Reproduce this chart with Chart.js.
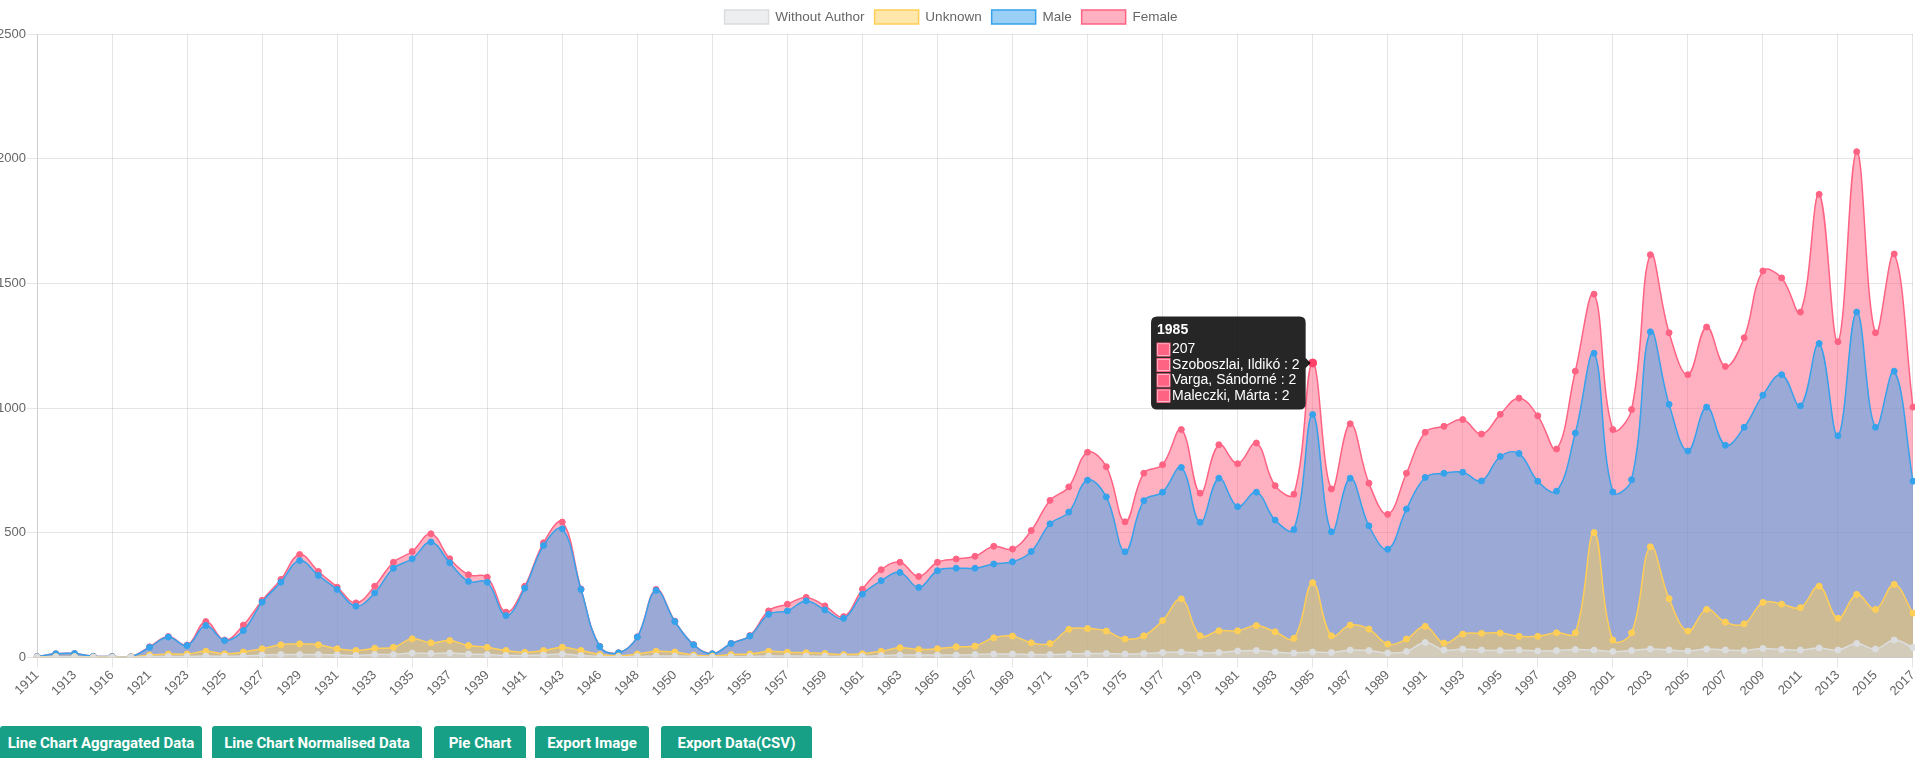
<!DOCTYPE html>
<html><head><meta charset="utf-8">
<script src="https://cdn.jsdelivr.net/npm/chart.js@4.4.1/dist/chart.umd.min.js"></script>
<style>
html,body{margin:0;padding:0;background:#fff;overflow:hidden;width:1915px;height:758px;}
#wrap{position:absolute;left:-19px;top:0;width:1943px;height:699px;}
.btn{position:absolute;top:726px;height:36px;background:#17a085;color:#fff;font-family:"Liberation Sans Narrow","Arial Narrow",Roboto,sans-serif;font-weight:bold;font-size:15px;line-height:34px;text-align:center;border-radius:3px;white-space:nowrap;}
</style></head>
<body>
<div id="wrap"><canvas id="c"></canvas></div>
<div class="btn" style="left:0;width:202px;">Line Chart Aggragated Data</div>
<div class="btn" style="left:212px;width:210px;">Line Chart Normalised Data</div>
<div class="btn" style="left:434px;width:92px;">Pie Chart</div>
<div class="btn" style="left:535px;width:114px;">Export Image</div>
<div class="btn" style="left:661px;width:151px;">Export Data(CSV)</div>
<script>
const years = ['1911','1912','1913','1914','1916','1920','1921','1922','1923','1924','1925','1926','1927','1928','1929','1930','1931','1932','1933','1934','1935','1936','1937','1938','1939','1940','1941','1942','1943','1944','1946','1947','1948','1949','1950','1951','1952','1954','1955','1956','1957','1958','1959','1960','1961','1962','1963','1964','1965','1966','1967','1968','1969','1970','1971','1972','1973','1974','1975','1976','1977','1978','1979','1980','1981','1982','1983','1984','1985','1986','1987','1988','1989','1990','1991','1992','1993','1994','1995','1996','1997','1998','1999','2000','2001','2002','2003','2004','2005','2006','2007','2008','2009','2010','2011','2012','2013','2014','2015','2016','2017'];

const withoutAuthor = [2,3,3,2,1,1,3,4,4,6, 5,6,10,12,12,12,10,8,12,12, 18,16,18,14,12,8,8,10,14,8, 4,3,4,6,6,4,2,3,4,6, 6,6,5,4,5,8,10,10,10,10, 12,14,14,12,12,14,16,16,14,16, 20,22,18,20,26,28,22,18,22,20, 30,28,18,24,60,30,34,30,28,30, 26,28,32,30,24,28,34,30,26,34, 30,28,36,32,30,38,30,56,34,70, 40];
const unknown = [0,1,1,0,1,1,7,10,10,19, 10,16,25,39,43,39,25,20,25,29, 57,43,50,34,29,20,13,18,27,20, 8,3,10,19,16,6,4,9,10,19, 15,13,11,8,10,17,29,22,25,33, 34,65,72,47,44,99,100,90,60,71, 128,213,69,87,81,100,81,59,278,67, 100,86,36,50,65,28,60,67,70,55, 59,71,67,471,46,71,410,206,80,159, 112,107,185,182,170,248,127,197,159,223, 138];
const male = [2,11,12,3,2,1,31,68,34,103, 53,86,187,251,334,278,238,178,222,317, 321,404,312,257,261,140,257,421,475,245, 32,13,68,244,122,41,9,44,72,148, 166,208,175,145,239,283,302,249,313,315, 312,296,298,366,480,470,595,538,350,542, 515,527,455,612,498,535,448,436,674,417, 589,414,380,521,597,681,649,611,708,733, 622,568,801,719,594,614,862,779,722,811, 709,788,831,920,809,973,732,1132,730,855, 529];
const female = [0,0,0,0,0,0,2,2,2,16, 2,22,7,11,24,16,9,13,27,24, 29,33,16,27,20,14,8,11,27,2, 1,0,1,4,2,1,0,1,2,14, 27,14,16,7,20,44,41,44,34,37, 48,71,51,84,94,101,112,121,120,110, 110,152,117,134,172,197,138,142,207,172, 218,171,140,144,181,188,211,188,169,222, 262,169,248,237,250,281,309,287,306,321, 316,359,498,388,376,598,377,643,379,470, 297];

const yTicks = [0, 500, 1000, 1500, 2000, 2500];
const tooltipYear = '1985';
const tooltipAuthors = ['Szoboszlai, Ildikó : 2', 'Varga, Sándorné : 2', 'Maleczki, Márta : 2'];

Chart.defaults.font.family = "Arial, 'Liberation Sans', sans-serif";
Chart.defaults.color = '#666';

function ds(label, data, rgb, alpha) {
  return {
    label, data,
    borderColor: 'rgb(' + rgb + ')',
    backgroundColor: 'rgba(' + rgb + ',' + alpha + ')',
    pointBackgroundColor: 'rgb(' + rgb + ')',
    pointBorderColor: 'rgb(' + rgb + ')',
    pointRadius: 3, pointBorderWidth: 1, pointHoverRadius: 4,
    borderWidth: 1.5, tension: 0.4, fill: 'origin'
  };
}

let tipLine = 0;
const tipIndex = years.indexOf(tooltipYear);

const chart = new Chart(document.getElementById('c'), {
  type: 'line',
  data: {
    labels: years,
    datasets: [
      ds('Without Author', withoutAuthor, '220,221,223', 0.5),
      ds('Unknown', unknown, '255,206,86', 0.5),
      ds('Male', male, '54,162,235', 0.5),
      ds('Female', female, '255,99,132', 0.5)
    ]
  },
  options: {
    responsive: true, maintainAspectRatio: false, animation: false,
    events: [],
    layout: { padding: { right: 3 } },
    plugins: {
      legend: { position: 'top', labels: { boxWidth: 44, boxHeight: 14, padding: 10, font: { size: 13.5 }, color: '#666' } },
      tooltip: {
        enabled: true, xAlign: 'right', yAlign: 'center',
        backgroundColor: 'rgba(0,0,0,0.85)',
        titleFont: { size: 14, weight: 'bold', lineHeight: 1.1 }, bodyFont: { size: 14, lineHeight: 1.1 },
        boxWidth: 13, boxHeight: 13,
        padding: 6, caretSize: 5, caretPadding: 2, cornerRadius: 6, bodySpacing: 0, titleMarginBottom: 4,
        callbacks: {
          title: items => items[0].label,
          beforeBody: () => { tipLine = 0; return ''; },
          label: ctx => { const k = tipLine++; return k === 0 ? String(ctx.raw) : tooltipAuthors[k - 1]; }
        }
      }
    },
    scales: {
      x: {
        grid: { color: c => (c.index % 2 === 0 ? 'rgba(0,0,0,0.1)' : 'rgba(0,0,0,0)'), tickLength: 10 },
        ticks: { autoSkip: false, minRotation: 45, maxRotation: 45, font: { size: 13 }, padding: 0,
          callback: function (v, i) { return i % 2 === 0 ? this.getLabelForValue(v) : null; } }
      },
      y: {
        stacked: true, min: yTicks[0], max: yTicks[yTicks.length - 1],
        afterBuildTicks: ax => { ax.ticks = yTicks.map(v => ({ value: v })); },
        grid: { color: 'rgba(0,0,0,0.1)', tickLength: 10 },
        ticks: { font: { size: 13 }, padding: 1, callback: v => String(v) },
        afterFit: ax => { ax.width = 56; }
      }
    }
  }
});
const act = [0, 1, 2, 3].map(() => ({ datasetIndex: 3, index: tipIndex }));
chart.setActiveElements([{ datasetIndex: 3, index: tipIndex }]);
chart.tooltip.setActiveElements(act, { x: 0, y: 0 });
chart.update();
</script>
</body></html>
